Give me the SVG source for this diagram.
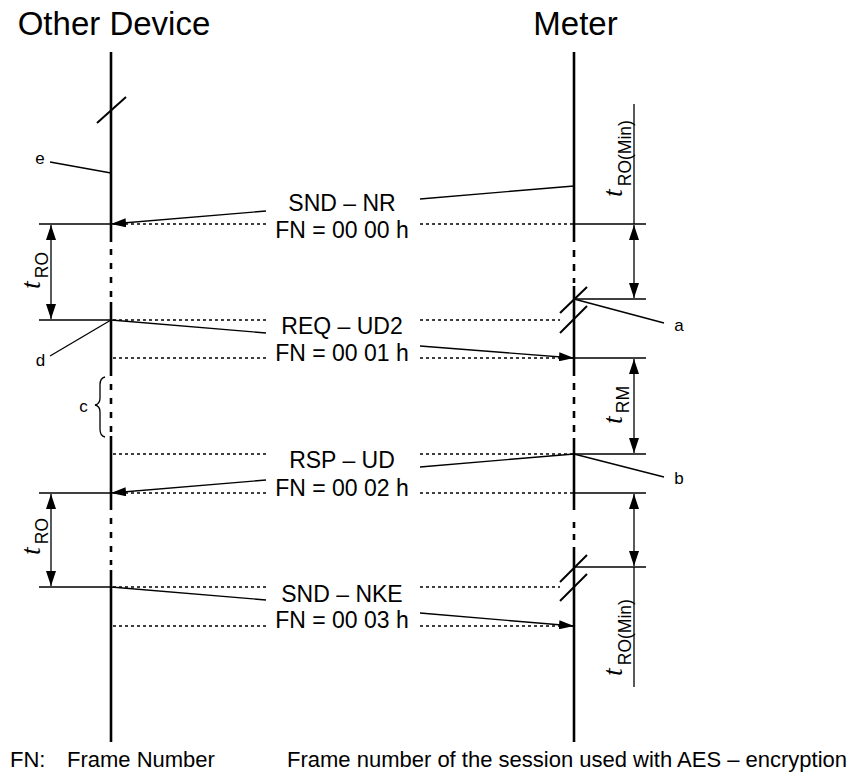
<svg xmlns="http://www.w3.org/2000/svg" width="851" height="782" viewBox="0 0 851 782">
<style>
.life{stroke:#000;stroke-width:2.6;fill:none}
.dash{stroke:#000;stroke-width:2.6;fill:none;stroke-dasharray:6 8}
.thin{stroke:#000;stroke-width:1.3;fill:none}
.dot{stroke:#000;stroke-width:1.3;fill:none;stroke-dasharray:3 3}
.slash{stroke:#000;stroke-width:2;fill:none}
.msg{stroke:#000;stroke-width:1.4;fill:none}
.t{font-family:"Liberation Sans",Arial,sans-serif;fill:#000}
.it{font-family:"Liberation Serif","Times New Roman",serif;font-style:italic;font-size:28px}
.sub{font-family:"Liberation Sans",Arial,sans-serif;font-size:17.5px}
</style>
<defs>
<marker id="ah" viewBox="0 0 15 9" refX="15" refY="4.5" markerWidth="15" markerHeight="9" markerUnits="userSpaceOnUse" orient="auto-start-reverse"><path d="M0,0 L15,4.5 L0,9 z" fill="#000"/></marker>
<marker id="dh" viewBox="0 0 15 10" refX="15" refY="5" markerWidth="15" markerHeight="10" markerUnits="userSpaceOnUse" orient="auto-start-reverse"><path d="M0,0 L15,5 L0,10 z" fill="#000"/></marker>
</defs>
<rect width="851" height="782" fill="#fff"/>

<g id="other-device">
<text class="t" x="114" y="35" font-size="33" text-anchor="middle">Other Device</text>
<line class="life" x1="111" y1="52" x2="111" y2="242"/>
<line class="dash" x1="111" y1="249" x2="111" y2="298"/>
<line class="life" x1="111" y1="302" x2="111" y2="376"/>
<line class="dash" x1="111" y1="384" x2="111" y2="433"/>
<line class="life" x1="111" y1="436" x2="111" y2="510"/>
<line class="dash" x1="111" y1="518" x2="111" y2="565"/>
<line class="life" x1="111" y1="570" x2="111" y2="742"/>
<line class="slash" x1="97" y1="123" x2="126" y2="97"/>
</g>

<g id="meter">
<text class="t" x="575.5" y="35" font-size="33" text-anchor="middle">Meter</text>
<line class="life" x1="574" y1="52" x2="574" y2="242"/>
<line class="dash" x1="574" y1="250" x2="574" y2="283" style="stroke-dasharray:7 7"/>
<line class="life" x1="574" y1="286" x2="574" y2="376"/>
<line class="dash" x1="574" y1="383" x2="574" y2="434" style="stroke-dasharray:7 7"/>
<line class="life" x1="574" y1="438" x2="574" y2="510"/>
<line class="dash" x1="574" y1="522" x2="574" y2="541" style="stroke-dasharray:6 6"/>
<line class="life" x1="574" y1="547" x2="574" y2="742"/>
<line class="slash" x1="560" y1="313" x2="587" y2="287"/>
<line class="slash" x1="560" y1="333" x2="587" y2="306"/>
<line class="slash" x1="560" y1="582" x2="587" y2="555"/>
<line class="slash" x1="560" y1="601" x2="587" y2="574"/>
</g>

<g id="timing">
<line class="thin" x1="39" y1="224" x2="111" y2="224"/>
<line class="thin" x1="39" y1="320" x2="111" y2="320"/>
<line class="thin" x1="39" y1="493" x2="111" y2="493"/>
<line class="thin" x1="39" y1="587" x2="111" y2="587"/>
<line class="thin" x1="51" y1="225" x2="51" y2="319" marker-start="url(#dh)" marker-end="url(#dh)"/>
<line class="thin" x1="51" y1="494" x2="51" y2="586" marker-start="url(#dh)" marker-end="url(#dh)"/>
<text transform="translate(40,289) rotate(-90)"><tspan class="it">t</tspan><tspan class="sub" dx="3" dy="7.5">RO</tspan></text>
<text transform="translate(40,555) rotate(-90)"><tspan class="it">t</tspan><tspan class="sub" dx="3" dy="7.5">RO</tspan></text>

<line class="thin" x1="574" y1="224" x2="646" y2="224"/>
<line class="thin" x1="574" y1="299" x2="646" y2="299"/>
<line class="thin" x1="574" y1="358" x2="646" y2="358"/>
<line class="thin" x1="574" y1="454" x2="646" y2="454"/>
<line class="thin" x1="574" y1="493" x2="646" y2="493"/>
<line class="thin" x1="574" y1="567" x2="646" y2="567"/>
<line class="thin" x1="634" y1="104" x2="634" y2="224"/>
<line class="thin" x1="634" y1="225" x2="634" y2="298" marker-start="url(#dh)" marker-end="url(#dh)"/>
<line class="thin" x1="634" y1="359" x2="634" y2="453" marker-start="url(#dh)" marker-end="url(#dh)"/>
<line class="thin" x1="634" y1="494" x2="634" y2="566" marker-start="url(#dh)" marker-end="url(#dh)"/>
<line class="thin" x1="634" y1="567" x2="634" y2="687"/>
<text transform="translate(622,197) rotate(-90)"><tspan class="it">t</tspan><tspan class="sub" dx="3" dy="9">RO(Min)</tspan></text>
<text transform="translate(622,424) rotate(-90)"><tspan class="it">t</tspan><tspan class="sub" dx="3" dy="7">RM</tspan></text>
<text transform="translate(622,676) rotate(-90)"><tspan class="it">t</tspan><tspan class="sub" dx="3" dy="9">RO(Min)</tspan></text>
</g>

<g id="connectors">
<polyline class="msg" points="574,186 420,199"/>
<line class="msg" x1="266" y1="211" x2="111" y2="224" marker-end="url(#ah)"/>
<line class="msg" x1="111" y1="320" x2="266" y2="333"/>
<line class="msg" x1="420" y1="346" x2="574" y2="358" marker-end="url(#ah)"/>
<line class="msg" x1="574" y1="454" x2="420" y2="467"/>
<line class="msg" x1="266" y1="480" x2="111" y2="493" marker-end="url(#ah)"/>
<line class="msg" x1="111" y1="587" x2="266" y2="600"/>
<line class="msg" x1="420" y1="613" x2="574" y2="626" marker-end="url(#ah)"/>

<line class="dot" x1="113" y1="224" x2="266" y2="224"/>
<line class="dot" x1="420" y1="224" x2="573" y2="224"/>
<line class="dot" x1="113" y1="320" x2="266" y2="320"/>
<line class="dot" x1="420" y1="320" x2="560" y2="320"/>
<line class="dot" x1="113" y1="358" x2="266" y2="358"/>
<line class="dot" x1="420" y1="358" x2="573" y2="358"/>
<line class="dot" x1="113" y1="454" x2="266" y2="454"/>
<line class="dot" x1="420" y1="454" x2="573" y2="454"/>
<line class="dot" x1="113" y1="493" x2="266" y2="493"/>
<line class="dot" x1="420" y1="493" x2="573" y2="493"/>
<line class="dot" x1="113" y1="587" x2="266" y2="587"/>
<line class="dot" x1="420" y1="587" x2="560" y2="587"/>
<line class="dot" x1="113" y1="626" x2="266" y2="626"/>
<line class="dot" x1="420" y1="626" x2="573" y2="626"/>
</g>

<g id="messages" class="t" font-size="23" text-anchor="middle">
<text x="342" y="211">SND – NR</text>
<text x="342" y="238">FN = 00 00 h</text>
<text x="342" y="334">REQ – UD2</text>
<text x="342" y="361">FN = 00 01 h</text>
<text x="342" y="468">RSP – UD</text>
<text x="342" y="496">FN = 00 02 h</text>
<text x="342" y="602">SND – NKE</text>
<text x="342" y="628">FN = 00 03 h</text>
</g>

<g id="annotations">
<line class="thin" x1="111" y1="173" x2="50" y2="162"/>
<text class="t" x="40" y="164" font-size="17" text-anchor="middle">e</text>
<line class="thin" x1="111" y1="320" x2="50" y2="356"/>
<text class="t" x="40.5" y="366" font-size="17" text-anchor="middle">d</text>
<path class="thin" d="M105,377 Q100,378 100,385 L100,398 Q100,404 95,405 Q100,406 100,412 L100,429 Q100,436 105,437"/>
<text class="t" x="83.5" y="412" font-size="17" text-anchor="middle">c</text>
<line class="thin" x1="574" y1="299" x2="664" y2="323"/>
<text class="t" x="679" y="331" font-size="17" text-anchor="middle">a</text>
<line class="thin" x1="574" y1="454" x2="664" y2="477"/>
<text class="t" x="679" y="484" font-size="17" text-anchor="middle">b</text>
</g>

<g id="legend" class="t" font-size="22">
<text x="10" y="767">FN:</text>
<text x="67" y="767">Frame Number</text>
<text x="287" y="767">Frame number of the session used with AES – encryption</text>
</g>
</svg>
